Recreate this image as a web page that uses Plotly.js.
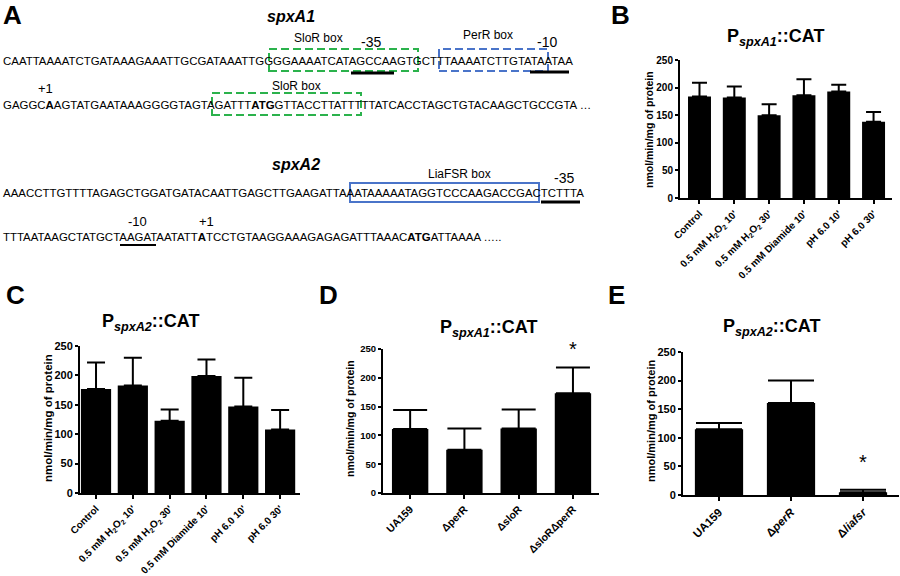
<!DOCTYPE html>
<html>
<head>
<meta charset="utf-8">
<script src="https://cdn.plot.ly/plotly-3.0.1.min.js"></script>
<style>
  html, body { margin: 0; padding: 0; background: #fff; }
  #fig { width: 900px; height: 576px; }
</style>
</head>
<body>
<div id="fig"></div>
<script>
// promoter sequences (panel A)
const seqA1 = [
  "CAATTAAAATCTGATAAAGAAATTGCGATAAATTGGGGAAAATCATAGCCAAGTGCTTTAAAATCTTGTATAATAA",
  "GAGGC<b>A</b>AGTATGAATAAAGGGGTAGTAGATTT<b>ATG</b>GTTACCTTATTTTTATCACCTAGCTGTACAAGCTGCCGTA …"
];
const seqA2 = [
  "AAACCTTGTTTTAGAGCTGGATGATACAATTGAGCTTGAAGATTAAATAAAAATAGGTCCCAAGACCGACTCTTTA",
  "TTTAATAAGCTATGCTAAGATAATATT<b>A</b>TCCTGTAAGGAAAGAGAGATTTAAAC<b>ATG</b>ATTAAAA ….."
];

// stress conditions (panels B, C)
const conditions = ["Control", "0.5 mM H<sub>2</sub>O<sub>2</sub> 10'", "0.5 mM H<sub>2</sub>O<sub>2</sub> 30'",
                    "0.5 mM Diamide 10'", "pH 6.0 10'", "pH 6.0 30'"];
const spxA1Stress = [184, 182, 150, 186, 193, 138];
const spxA1StressErr = [25, 20, 20, 29, 12, 18];
const spxA2Stress = [177, 183, 123, 199, 147, 108];
const spxA2StressErr = [45, 47, 19, 28, 49, 33];

// mutant strains (panels D, E)
const strainsD = ["UA159", "ΔperR", "ΔsloR", "ΔsloRΔperR"];
const spxA1Strain = [111, 75, 112, 173];
const spxA1StrainErr = [33, 37, 33, 45];
const strainsE = ["UA159", "Δ<i>perR</i>", "Δ<i>liafsr</i>"];
const spxA2Strain = [115, 161, 5];
const spxA2StrainErr = [11, 39, 4];

const yTicks = [0, 50, 100, 150, 200, 250];

const W = 900, H = 576;
const px = (p) => p / W;
const py = (p) => 1 - p / H;
const FONT = 'Liberation Sans, Arial, sans-serif';

function barTrace(vals, errs, xa, ya, width, cap) {
  return {
    type: 'bar',
    x: vals.map((v, i) => i),
    y: vals,
    width: width,
    xaxis: xa, yaxis: ya,
    marker: { color: 'black', line: { width: 0 } },
    error_y: {
      type: 'data', symmetric: false,
      array: errs, arrayminus: errs.map(() => 0),
      color: 'black', thickness: 2, width: cap
    },
    hoverinfo: 'skip',
    showlegend: false
  };
}

function xAxis(labels, range, dom, size, anchor) {
  return {
    domain: dom, anchor: anchor, range: range,
    tickvals: labels.map((l, i) => i), ticktext: labels,
    tickangle: -45, ticks: 'outside', ticklen: 4, tickwidth: 2, tickcolor: 'black',
    showline: true, linewidth: 2, linecolor: 'black',
    showgrid: false, zeroline: false, fixedrange: true,
    tickfont: { family: FONT, size: size, color: 'black', weight: 'bold' }
  };
}

function yAxis(dom, size, anchor) {
  return {
    domain: dom, anchor: anchor, range: [0, 250],
    tickvals: yTicks, ticks: 'outside', ticklen: 3, tickwidth: 2, tickcolor: 'black',
    showline: true, linewidth: 2, linecolor: 'black',
    showgrid: false, zeroline: false, fixedrange: true,
    tickfont: { family: FONT, size: size, color: 'black', weight: 'bold' }
  };
}

const data = [
  barTrace(spxA1Stress, spxA1StressErr, 'x', 'y', 0.66, 7.5),
  barTrace(spxA2Stress, spxA2StressErr, 'x2', 'y2', 0.82, 9),
  barTrace(spxA1Strain, spxA1StrainErr, 'x3', 'y3', 0.67, 17),
  barTrace(spxA2Strain, spxA2StrainErr, 'x4', 'y4', 0.67, 23)
];

function txt(x, y, text, size, opts) {
  return Object.assign({
    xref: 'paper', yref: 'paper', x: px(x), y: py(y), text: text,
    showarrow: false, xanchor: 'center', yanchor: 'middle',
    font: { family: FONT, size: size, color: 'black' }
  }, opts || {});
}

const SEQ = 11.45;
const annotations = [
  // panel letters
  txt(12, 15, '<b>A</b>', 26),
  txt(620, 15, '<b>B</b>', 26),
  txt(15, 295, '<b>C</b>', 26),
  txt(328, 295, '<b>D</b>', 26),
  txt(616, 295, '<b>E</b>', 26),

  // panel A: spxA1
  txt(291, 17, '<b><i>spxA1</i></b>', 16),
  txt(1, 61, seqA1[0], SEQ, { xanchor: 'left' }),
  txt(1, 105, seqA1[1], SEQ, { xanchor: 'left' }),
  txt(318, 38, 'SloR box', 12),
  txt(371, 42, '-35', 14),
  txt(488, 35, 'PerR box', 12),
  txt(547, 42, '-10', 14),
  txt(45, 89, '+1', 13),
  txt(296, 86, 'SloR box', 12),

  // panel A: spxA2
  txt(296, 165, '<b><i>spxA2</i></b>', 16),
  txt(1, 193, seqA2[0], SEQ, { xanchor: 'left' }),
  txt(1, 237, seqA2[1], SEQ, { xanchor: 'left' }),
  txt(460, 174, 'LiaFSR box', 12),
  txt(564, 178, '-35', 14),
  txt(137, 221, '-10', 13),
  txt(206, 221, '+1', 13),

  // chart titles
  txt(775, 38, '<b>P<sub><i>spxA1</i></sub>::CAT</b>', 18),
  txt(150, 322, '<b>P<sub><i>spxA2</i></sub>::CAT</b>', 18),
  txt(488, 328, '<b>P<sub><i>spxA1</i></sub>::CAT</b>', 18),
  txt(771, 327, '<b>P<sub><i>spxA2</i></sub>::CAT</b>', 18),

  // y axis titles
  txt(649, 130, '<b>nmol/min/mg of protein</b>', 10.5, { textangle: -90 }),
  txt(48, 418, '<b>nmol/min/mg of protein</b>', 11.5, { textangle: -90 }),
  txt(350, 419, '<b>nmol/min/mg of protein</b>', 10.5, { textangle: -90 }),
  txt(651, 421, '<b>nmol/min/mg of protein</b>', 11, { textangle: -90 }),

  // significance
  { xref: 'x3', yref: 'y3', x: 3, y: 250, text: '*', showarrow: false,
    font: { family: FONT, size: 20, color: 'black' } },
  { xref: 'x4', yref: 'y4', x: 2, y: 57, text: '*', showarrow: false,
    font: { family: FONT, size: 20, color: 'black' } }
];

const GREEN = '#2bb24c', BLUE = '#4a74c9';
function box(x0, y0, x1, y1, color, dash) {
  return { type: 'rect', xref: 'paper', yref: 'paper',
    x0: px(x0), x1: px(x1), y0: py(y1), y1: py(y0),
    line: { color: color, width: 2, dash: dash }, fillcolor: 'rgba(0,0,0,0)' };
}
function uline(x0, x1, y, w) {
  return { type: 'line', xref: 'paper', yref: 'paper',
    x0: px(x0), x1: px(x1), y0: py(y), y1: py(y),
    line: { color: 'black', width: w } };
}

const shapes = [
  box(269, 49, 418, 71, GREEN, '8px,4px'),
  box(439, 49, 548, 71, BLUE, '8px,4px'),
  box(212, 93, 361, 115, GREEN, '8px,4px'),
  box(350, 183, 539, 202, BLUE, 'solid'),
  uline(351, 394, 73, 3),
  uline(530, 569, 72, 3),
  uline(541, 580, 202, 3),
  uline(120, 156, 245, 2)
];

const layout = {
  width: W, height: H,
  margin: { l: 0, r: 0, t: 0, b: 0 },
  paper_bgcolor: 'white', plot_bgcolor: 'white',
  showlegend: false,
  font: { family: FONT, color: 'black' },
  xaxis: xAxis(conditions, [-0.56, 5.53], [px(680), px(892)], 10, 'y'),
  yaxis: yAxis([py(198), py(60)], 10, 'x'),
  xaxis2: xAxis(conditions, [-0.435, 5.54], [px(80), px(300)], 10, 'y2'),
  yaxis2: yAxis([py(493), py(346)], 11, 'x2'),
  xaxis3: xAxis(strainsD, [-0.5, 3.48], [px(383), px(599)], 10.5, 'y3'),
  yaxis3: yAxis([py(493), py(349)], 9.5, 'x3'),
  xaxis4: xAxis(strainsE, [-0.5, 2.5], [px(683), px(899)], 11.5, 'y4'),
  yaxis4: yAxis([py(495), py(352)], 11, 'x4'),
  annotations: annotations,
  shapes: shapes
};

Plotly.newPlot('fig', data, layout, { displayModeBar: false, staticPlot: true });
</script>
</body>
</html>
